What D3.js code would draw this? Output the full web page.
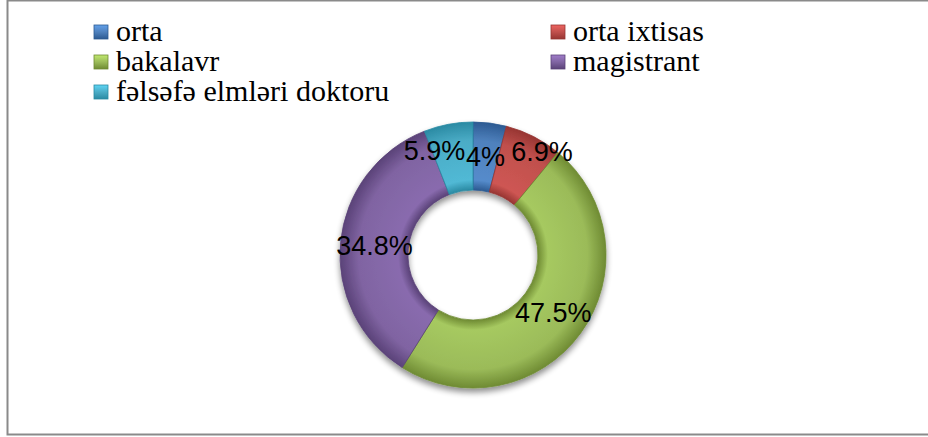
<!DOCTYPE html>
<html>
<head>
<meta charset="utf-8">
<script src="https://cdn.jsdelivr.net/npm/d3@7"></script>
<style>
  body { margin: 0; background: #fff; }
  svg { display: block; }
</style>
</head>
<body>
<div id="vis"></div>
<script>
// chart data
var categories = ['orta', 'orta ixtisas', 'bakalavr', 'magistrant', 'fəlsəfə elmləri doktoru'];
var values = [4, 6.9, 47.5, 34.8, 5.9];
var labels = ['4%', '6.9%', '47.5%', '34.8%', '5.9%'];

// office 2007 palette
var colors = ['#4f81bd', '#c0504d', '#9bbb59', '#8064a2', '#4bacc6'];
var darker = ['#2c5a92', '#973532', '#6f8b33', '#5a4278', '#2a8aa3'];

var width = 928;
var height = 437;
var cx = 473, cy = 255;
var outerR = 133, innerR = 65;

var serif = "'Liberation Serif', 'Times New Roman', serif";
var sans = "'Liberation Sans', Arial, sans-serif";

// small nudges for labels that would collide (like excel's best fit)
var labelNudge = { 1: [24, -15], 4: [-20, -7] };

var svg = d3.select('#vis').append('svg')
  .attr('width', width)
  .attr('height', height);

var defs = svg.append('defs');

var shadow = defs.append('filter')
  .attr('id', 'shadow')
  .attr('x', '-20%').attr('y', '-20%')
  .attr('width', '140%').attr('height', '140%');
shadow.append('feGaussianBlur').attr('in', 'SourceAlpha').attr('stdDeviation', 3);
shadow.append('feOffset').attr('dx', 0).attr('dy', 4).attr('result', 'blur');
shadow.append('feComponentTransfer').append('feFuncA').attr('type', 'linear').attr('slope', 0.45);
var merge = shadow.append('feMerge');
merge.append('feMergeNode');
merge.append('feMergeNode').attr('in', 'SourceGraphic');

// radial bevel-ish gradient for each slice (group space, centred at 0,0)
colors.forEach(function(c, i) {
  var grad = defs.append('radialGradient')
    .attr('id', 'g' + i)
    .attr('gradientUnits', 'userSpaceOnUse')
    .attr('cx', 0).attr('cy', 0).attr('r', outerR);
  grad.append('stop').attr('offset', innerR / outerR).attr('stop-color', darker[i]);
  grad.append('stop').attr('offset', (innerR + 10) / outerR).attr('stop-color', d3.color(c).brighter(0.2));
  grad.append('stop').attr('offset', 0.86).attr('stop-color', c);
  grad.append('stop').attr('offset', 1).attr('stop-color', darker[i]);

  var sq = defs.append('linearGradient')
    .attr('id', 's' + i)
    .attr('x1', 0).attr('y1', 0).attr('x2', 0).attr('y2', 1);
  sq.append('stop').attr('offset', 0).attr('stop-color', d3.color(c).brighter(0.6));
  sq.append('stop').attr('offset', 0.5).attr('stop-color', c);
  sq.append('stop').attr('offset', 1).attr('stop-color', darker[i]);
});

// frame
svg.append('rect')
  .attr('x', 7.5).attr('y', 0.5)
  .attr('width', 930).attr('height', 434)
  .attr('fill', 'none')
  .attr('stroke', '#8a8a8a')
  .attr('stroke-width', 2);

var pie = d3.pie().sort(null).value(function(d) { return d; });
var arc = d3.arc().innerRadius(innerR).outerRadius(outerR);
var labelArc = d3.arc().innerRadius(99).outerRadius(99);

var arcs = pie(values);

var g = svg.append('g')
  .attr('transform', 'translate(' + cx + ',' + cy + ')');

g.append('g')
  .attr('filter', 'url(#shadow)')
  .selectAll('path')
  .data(arcs)
  .enter().append('path')
  .attr('d', arc)
  .attr('fill', function(d, i) { return 'url(#g' + i + ')'; })
  .attr('stroke', function(d, i) { return darker[i]; })
  .attr('stroke-width', 0.8);

g.selectAll('.lbl')
  .data(arcs)
  .enter().append('text')
  .attr('class', 'lbl')
  .attr('x', function(d, i) { return labelArc.centroid(d)[0] + (labelNudge[i] ? labelNudge[i][0] : 0); })
  .attr('y', function(d, i) { return labelArc.centroid(d)[1] + (labelNudge[i] ? labelNudge[i][1] : 0); })
  .attr('text-anchor', 'middle')
  .attr('dominant-baseline', 'central')
  .style('font-family', sans)
  .style('font-size', '27px')
  .attr('fill', '#000')
  .text(function(d, i) { return labels[i]; });

// legend, two columns
var legendPos = [[94, 32], [551, 32], [94, 62], [551, 62], [94, 92]];

var legend = svg.selectAll('.legend')
  .data(categories)
  .enter().append('g')
  .attr('class', 'legend')
  .attr('transform', function(d, i) { return 'translate(' + legendPos[i][0] + ',' + legendPos[i][1] + ')'; });

legend.append('rect')
  .attr('x', 0).attr('y', -7)
  .attr('width', 14).attr('height', 14)
  .attr('fill', function(d, i) { return 'url(#s' + i + ')'; })
  .attr('stroke', function(d, i) { return darker[i]; })
  .attr('stroke-width', 0.8);

legend.append('text')
  .attr('x', 22)
  .attr('y', 9)
  .style('font-family', serif)
  .style('font-size', '30px')
  .attr('fill', '#000')
  .text(function(d) { return d; });
</script>
</body>
</html>
